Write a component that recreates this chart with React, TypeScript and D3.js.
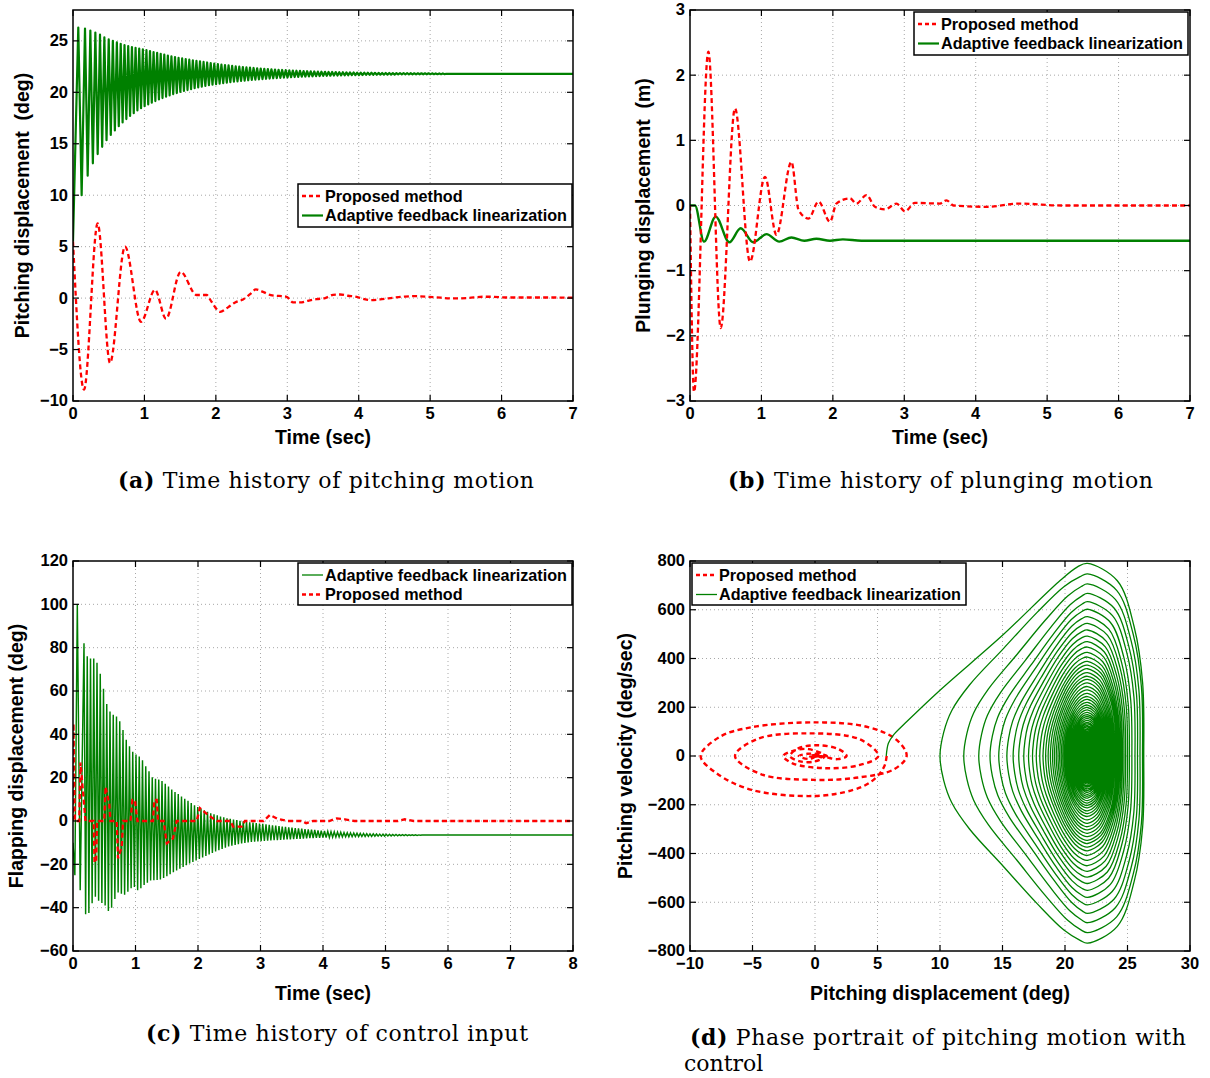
import React from 'react';
import * as d3 from 'd3';

// ---------------- DATA ----------------
// (a) pitching displacement (deg) vs time (sec)
const PITCH_RED: [number, number][] = [
  [0, 5.5], [0.154, -8.9], [0.345, 7.25], [0.518, -6.3], [0.728, 5.0], [0.952, -2.3], [1.148, 0.8],
  [1.302, -2.0], [1.507, 2.55], [1.73, 0.3], [1.87, 0.3], [1.94, -0.36], [2.06, -1.33], [2.17, -0.9],
  [2.27, -0.42], [2.38, -0.13], [2.48, 0.39], [2.56, 0.84], [2.66, 0.61], [2.77, 0.29], [2.99, 0.13],
  [3.08, -0.42], [3.18, -0.42], [3.29, -0.26], [3.41, -0.1], [3.53, 0], [3.64, 0.32], [3.74, 0.35],
  [3.85, 0.23], [3.97, 0.13], [4.06, -0.06], [4.16, -0.19], [4.3, -0.13], [4.41, -0.03], [4.62, 0.13],
  [4.76, 0.19], [5.04, 0.1], [5.32, -0.03], [5.51, 0], [5.74, 0.13], [5.88, 0.13], [6.06, 0.06],
  [6.68, 0.06], [7, 0.04],
];
const PITCH_START = 5.5;
const PITCH_STEADY = 21.8;
// times of the first peaks (sec), later peaks follow at PITCH_LATE_PERIOD
const PITCH_EARLY_PEAK_T = [0.074, 0.168, 0.243, 0.313, 0.378, 0.439, 0.5, 0.558, 0.614, 0.668, 0.721, 0.773, 0.825, 0.876, 0.927, 0.978];
const PITCH_LATE_PERIOD = 0.05;
const PITCH_PEAKS = [
  26.3, 26.2, 26.0, 25.8, 25.6, 25.35, 25.15, 25.0, 24.85, 24.72, 24.6, 24.5, 24.4, 24.32, 24.25, 24.18,
  24.11, 24.01, 23.92, 23.83, 23.74, 23.66, 23.58, 23.5, 23.43, 23.36, 23.29, 23.23, 23.17, 23.11, 23.05, 23.0, 22.95, 22.9, 22.85, 22.8,
  22.75, 22.7, 22.655, 22.61, 22.57, 22.53, 22.495, 22.46, 22.425, 22.395, 22.365, 22.335, 22.31, 22.285, 22.26, 22.235, 22.215, 22.19, 22.17, 22.15,
  22.13, 22.115, 22.1, 22.085, 22.07, 22.055, 22.04, 22.03, 22.015, 22.005, 21.995, 21.985, 21.975, 21.965, 21.955, 21.948, 21.94, 21.933, 21.926, 21.92,
  21.914, 21.908, 21.903, 21.898, 21.893, 21.888, 21.884, 21.88, 21.876, 21.872, 21.868, 21.865, 21.862, 21.859, 21.856, 21.853, 21.85, 21.848, 21.846, 21.844,
  21.842, 21.84, 21.838, 21.836,
];
const PITCH_TROUGHS = [
  10.0, 11.9, 13.1, 14.0, 14.7, 15.35, 15.85, 16.3, 16.7, 17.08, 17.4, 17.7, 17.98, 18.24, 18.45, 18.65,
  18.83, 19.0, 19.15, 19.3, 19.44, 19.57, 19.7, 19.82, 19.93, 20.03, 20.13, 20.22, 20.31, 20.4, 20.48, 20.55, 20.62, 20.69, 20.75, 20.8,
  20.85, 20.9, 20.945, 20.99, 21.03, 21.07, 21.105, 21.14, 21.175, 21.205, 21.235, 21.265, 21.29, 21.315, 21.34, 21.365, 21.385, 21.41, 21.43, 21.45,
  21.47, 21.485, 21.5, 21.515, 21.53, 21.545, 21.56, 21.57, 21.585, 21.595, 21.605, 21.615, 21.625, 21.635, 21.645, 21.652, 21.66, 21.667, 21.674, 21.68,
  21.686, 21.692, 21.697, 21.702, 21.707, 21.712, 21.716, 21.72, 21.724, 21.728, 21.732, 21.735, 21.738, 21.741, 21.744, 21.747, 21.75, 21.752, 21.754, 21.756,
  21.758, 21.76, 21.762, 21.764,
];

// (b) plunging displacement (m) vs time (sec)
const PLUNGE_RED: [number, number][] = [
  [0, 0], [0.056, -2.86], [0.257, 2.36], [0.43, -1.88], [0.63, 1.49], [0.84, -0.86], [1.05, 0.44],
  [1.21, -0.45], [1.42, 0.67], [1.52, -0.07], [1.66, -0.2], [1.8, 0.06], [1.96, -0.25], [2.05, 0.03],
  [2.24, 0.11], [2.33, 0.03], [2.47, 0.16], [2.59, -0.02], [2.73, -0.06], [2.89, 0.03], [3.01, -0.09],
  [3.15, 0.04], [3.5, 0.03], [3.59, 0.08], [3.69, 0], [4.15, -0.02], [4.62, 0.03], [5.2, 0], [7, 0],
];
const PLUNGE_GREEN: [number, number][] = [
  [0, 0], [0.07, 0], [0.196, -0.555], [0.36, -0.17], [0.55, -0.565], [0.71, -0.35], [0.886, -0.565],
  [1.07, -0.44], [1.25, -0.555], [1.42, -0.49], [1.6, -0.54], [1.77, -0.51], [1.96, -0.54], [2.14, -0.52],
  [2.4, -0.54], [7, -0.54],
];

// (c) flapping displacement (deg) vs time (sec)
const FLAP_RED: [number, number][] = [
  [0, 0], [0.008, 45], [0.03, 0], [0.1, 0], [0.12, 27], [0.2, 0], [0.33, 0], [0.345, -19], [0.37, -19],
  [0.385, 0], [0.5, 0], [0.52, 15.8], [0.58, 8], [0.6, 0], [0.7, 0], [0.72, -17.2], [0.78, -12], [0.8, 0],
  [0.92, 0], [0.95, 9.7], [0.99, 9.7], [1.03, 0], [1.28, 0], [1.3, 9.7], [1.34, 9.7], [1.36, 0], [1.45, 0],
  [1.5, -10.3], [1.6, -8], [1.66, 0], [1.98, 0], [2.03, 6], [2.15, 3], [2.3, 0], [2.52, 0], [2.56, -2.6],
  [2.7, -2.6], [2.75, 0], [3.05, 0], [3.15, 2.8], [3.27, 1], [3.43, 0], [3.65, 0], [3.73, -1], [3.84, 0],
  [4.1, 0], [4.22, 1.2], [4.35, 0.8], [4.5, 0], [5.2, 0], [5.31, 0.8], [5.45, 0], [8, 0],
];
const FLAP_PRE: [number, number][] = [[0, -10], [0.03, -25], [0.069, 100], [0.115, -32]];
const FLAP_T0 = 0.176;
const FLAP_PERIOD = 0.052;
const FLAP_STEADY = -6.5;
const FLAP_PEAKS = [
  82, 76, 75, 75, 73, 68, 61, 54, 50.5, 49,
  48.2, 46, 42, 37.5, 34.5, 32, 30.7, 29.8, 28, 25.3,
  23, 20.2, 19.5, 19.1, 18.4, 17.2, 15.9, 14.5, 13.4, 12.4,
  11.3, 10.3, 9.3, 8.3, 7.3, 6.5, 5.7, 5.0, 4.3, 3.6,
  3.1, 2.6, 2.1, 1.7, 1.3, 1.0, 0.7, 0.4, 0.1, -0.1,
  -0.35, -0.55, -0.75, -0.95, -1.15, -1.35, -1.55, -1.75, -1.95, -2.15,
  -2.35, -2.55, -2.75, -2.95, -3.1, -3.25, -3.4, -3.55, -3.7, -3.85,
  -4.0, -4.15, -4.3, -4.45, -4.6, -4.75, -4.9, -5.0, -5.1, -5.2,
  -5.3, -5.38, -5.46, -5.54, -5.62, -5.7, -5.76, -5.82, -5.88, -5.93,
  -5.98, -6.03, -6.07, -6.11, -6.15, -6.19, -6.23, -6.26, -6.29, -6.32,
  -6.35, -6.38, -6.4, -6.42,
];
const FLAP_TROUGHS = [
  -43, -42.5, -38, -35, -36.8, -37.8, -39, -41.5, -40, -36,
  -33, -33.6, -34, -32.6, -31, -30.5, -32, -31, -29.5, -28.5,
  -27.5, -27.3, -27.2, -27, -26.3, -25.5, -24.6, -23.7, -22.8, -22,
  -21.2, -20.4, -19.6, -18.9, -18.2, -17.5, -16.8, -16.1, -15.4, -14.7,
  -14.1, -13.5, -12.9, -12.3, -11.8, -11.4, -11.0, -10.7, -10.4, -10.1,
  -9.9, -9.7, -9.5, -9.4, -9.3, -9.2, -9.1, -9.0, -8.9, -8.8,
  -8.7, -8.6, -8.5, -8.45, -8.4, -8.3, -8.2, -8.1, -8.0, -7.95,
  -7.9, -7.8, -7.75, -7.7, -7.65, -7.6, -7.5, -7.45, -7.4, -7.35,
  -7.3, -7.27, -7.24, -7.21, -7.18, -7.15, -7.12, -7.09, -7.06, -7.03,
  -7.0, -6.97, -6.94, -6.91, -6.88, -6.85, -6.82, -6.79, -6.76, -6.73,
  -6.7, -6.67, -6.64, -6.61,
];

// (d) phase portrait: pitching displacement (deg) vs pitching velocity (deg/sec)
const PHASE_RED: [number, number][] = [
  [5.73, 0], [5.6, -35], [5.2, -71], [4.3, -112], [3.07, -139], [0, -164], [-5.07, -139], [-7.87, -71],
  [-9.15, 0], [-7.6, 79], [-5.07, 118], [0, 138], [4.13, 120], [6.53, 66], [7.33, 0],
  [6.3, -55], [3.5, -88], [0, -98], [-4.3, -75], [-6.4, 0], [-4.6, 70], [-0.6, 93], [3.6, 68], [5.07, 0],
  [3.5, -38], [0.8, -50], [-1.8, -30], [-2.53, 0], [-1.7, 22], [-0.5, 28], [0.8, 0], [0, -22], [-1.2, -22],
  [-2.0, 0], [-1.3, 32], [0.3, 44], [1.9, 28], [2.53, 0], [1.8, -13], [0.3, 0], [-0.5, -12], [-1.3, 0],
  [-0.6, 9], [0.3, 8], [0.95, 0], [0.5, -5], [0.2, 0], [-0.2, -4], [-0.5, 0], [-0.1, 3], [0.35, 0],
  [0.1, -2], [-0.2, 0], [0, 1.5], [0.15, 0], [0.02, -0.5],
];
const PHASE_GREEN_FIRST: [number, number][] = [
  [5.7, 0], [5.87, 52], [6.27, 86], [7.2, 134], [10, 270], [15, 495], [19.5, 715], [21, 776], [21.8, 790],
];
// peak velocity on each rising stroke and on each falling stroke (deg/sec)
const PHASE_V_UP = [
  790, 747, 706, 667, 633, 602, 572, 544, 517, 492, 469, 447, 425, 406, 388, 373, 358, 342, 327, 314,
  300, 285, 271, 257, 244, 232, 220, 209, 199, 189, 179, 170, 162, 154, 146, 138, 132, 125, 119, 112,
  107, 101, 96, 92, 87, 82, 78, 74, 71, 67, 64, 60, 57, 54, 51, 49, 46, 44, 42, 40,
  38, 36, 34, 32, 30, 28, 27, 25.6, 24.3, 23, 21.6, 20.5, 19.4, 18.4, 17.4, 16.6, 15.8, 15, 14.2, 13.5,
  12.8, 12.2, 11.6, 11, 10.5, 10, 9.5, 9, 8.6, 8.2, 7.8, 7.4, 7.0, 6.7, 6.4, 6.1, 5.8, 5.5, 5.3, 5.0,
];
const PHASE_V_DOWN = [
  768, 725, 684, 646, 611, 580, 551, 523, 497, 473, 450, 428, 408, 389, 374, 359, 346, 331, 317, 303,
  290, 276, 262, 248, 236, 225, 213, 203, 193, 183, 173, 165, 157, 149, 142, 135, 128, 122, 115, 109,
  104, 99, 94, 89, 84, 80, 76, 72, 69, 65, 62, 59, 56, 53, 50, 47, 45, 43, 41, 39,
  37, 35, 33, 31, 29, 27.7, 26.3, 25, 23.6, 22.3, 21, 20, 18.9, 18, 17, 16.2, 15.4, 14.6, 13.9, 13.2,
  12.6, 11.9, 11.3, 10.8, 10.3, 9.7, 9.2, 8.8, 8.4, 8, 7.6, 7.2, 6.8, 6.5, 6.2, 5.9, 5.7, 5.4, 5.1, 4.9,
];

// ticks
const A_XTICKS = [0, 1, 2, 3, 4, 5, 6, 7];
const A_YTICKS = [-10, -5, 0, 5, 10, 15, 20, 25];
const B_XTICKS = [0, 1, 2, 3, 4, 5, 6, 7];
const B_YTICKS = [-3, -2, -1, 0, 1, 2, 3];
const C_XTICKS = [0, 1, 2, 3, 4, 5, 6, 7, 8];
const C_YTICKS = [-60, -40, -20, 0, 20, 40, 60, 80, 100, 120];
const D_XTICKS = [-10, -5, 0, 5, 10, 15, 20, 25, 30];
const D_YTICKS = [-800, -600, -400, -200, 0, 200, 400, 600, 800];

const LBL_PROPOSED = 'Proposed method';
const LBL_AFL = 'Adaptive feedback linearization';

// ---------------- STYLE ----------------
const SANS = "'Liberation Sans', Arial, Helvetica, sans-serif";
const SERIF = "'DejaVu Serif', 'Liberation Serif', serif";
const RED = '#ff0000';
const GREEN = '#008000';

const fmt = (v: number) => (v < 0 ? '\u2212' + Math.abs(v) : String(v));

type Scale = d3.ScaleLinear<number, number>;

function Axes(props: {
  id: string; left: number; top: number; width: number; height: number;
  xDomain: [number, number]; yDomain: [number, number]; xTicks: number[]; yTicks: number[];
  xLabel: string; yLabel: string; yLabelX: number; xLabelY: number;
  render: (x: Scale, y: Scale) => React.ReactNode;
}) {
  const { id, left, top, width, height, xDomain, yDomain, xTicks, yTicks, xLabel, yLabel, yLabelX, xLabelY, render } = props;
  const x = d3.scaleLinear().domain(xDomain).range([left, left + width]);
  const y = d3.scaleLinear().domain(yDomain).range([top + height, top]);
  const bottom = top + height;
  const right = left + width;
  const tl = 6;
  return (
    <g>
      <clipPath id={'clip-' + id}>
        <rect x={left} y={top} width={width} height={height} />
      </clipPath>
      <rect x={left} y={top} width={width} height={height} fill="#fff" />
      <g stroke="#a8a8a8" strokeWidth={1} strokeDasharray="1,3">
        {xTicks.filter((t) => t !== xDomain[0] && t !== xDomain[1]).map((t) => (
          <line key={'gx' + t} x1={x(t)} x2={x(t)} y1={top} y2={bottom} />
        ))}
        {yTicks.filter((t) => t !== yDomain[0] && t !== yDomain[1]).map((t) => (
          <line key={'gy' + t} x1={left} x2={right} y1={y(t)} y2={y(t)} />
        ))}
      </g>
      <g clipPath={`url(#clip-${id})`}>{render(x, y)}</g>
      <g stroke="#000" strokeWidth={1.2}>
        {xTicks.map((t) => (
          <g key={'tx' + t}>
            <line x1={x(t)} x2={x(t)} y1={bottom} y2={bottom - tl} />
            <line x1={x(t)} x2={x(t)} y1={top} y2={top + tl} />
          </g>
        ))}
        {yTicks.map((t) => (
          <g key={'ty' + t}>
            <line x1={left} x2={left + tl} y1={y(t)} y2={y(t)} />
            <line x1={right} x2={right - tl} y1={y(t)} y2={y(t)} />
          </g>
        ))}
      </g>
      <rect x={left} y={top} width={width} height={height} fill="none" stroke="#000" strokeWidth={1.5} />
      <g fontFamily={SANS} fontWeight="bold" fontSize={16.5} fill="#000">
        {xTicks.map((t) => (
          <text key={'lx' + t} x={x(t)} y={bottom + 18} textAnchor="middle">{fmt(t)}</text>
        ))}
        {yTicks.map((t) => (
          <text key={'ly' + t} x={left - 5} y={y(t)} dy="0.33em" textAnchor="end">{fmt(t)}</text>
        ))}
      </g>
      <g fontFamily={SANS} fontWeight="bold" fontSize={19.5} fill="#000">
        <text x={(left + right) / 2} y={xLabelY} textAnchor="middle">{xLabel}</text>
        <text transform={`translate(${yLabelX},${(top + bottom) / 2}) rotate(-90)`} textAnchor="middle" dy="0.36em"
          style={{ whiteSpace: 'pre' }}>{yLabel}</text>
      </g>
    </g>
  );
}

type LegendEntry = { label: string; color: string; width: number; dash?: string };
function Legend({ x, y, w, h, entries }: { x: number; y: number; w: number; h: number; entries: LegendEntry[] }) {
  return (
    <g>
      <rect x={x} y={y} width={w} height={h} fill="#fff" stroke="#000" strokeWidth={1.5} />
      {entries.map((e, i) => {
        const cy = y + 12 + i * 19.5;
        return (
          <g key={i}>
            <line x1={x + 4} x2={x + 25} y1={cy} y2={cy} stroke={e.color} strokeWidth={e.width}
              strokeDasharray={e.dash} />
            <text x={x + 27} y={cy} dy="0.36em" fontFamily={SANS} fontWeight="bold" fontSize={16.2}>{e.label}</text>
          </g>
        );
      })}
    </g>
  );
}

function mkLine(x: Scale, y: Scale, curve: d3.CurveFactory = d3.curveLinear) {
  return d3.line<[number, number]>().x((d) => x(d[0])).y((d) => y(d[1])).curve(curve);
}

function pitchPeakTime(i: number): number {
  const n = PITCH_EARLY_PEAK_T.length;
  return i < n ? PITCH_EARLY_PEAK_T[i] : PITCH_EARLY_PEAK_T[n - 1] + (i - n + 1) * PITCH_LATE_PERIOD;
}

// waveform through the per-cycle extremes
function pitchGreenPoints(): [number, number][] {
  const pts: [number, number][] = [[0, PITCH_START]];
  PITCH_PEAKS.forEach((p, i) => {
    const tp = pitchPeakTime(i);
    const tn = pitchPeakTime(i + 1);
    pts.push([tp, p]);
    pts.push([(tp + tn) / 2, PITCH_TROUGHS[i]]);
  });
  pts.push([pitchPeakTime(PITCH_PEAKS.length), PITCH_STEADY]);
  pts.push([7, PITCH_STEADY]);
  return pts;
}

function flapGreenPoints(): [number, number][] {
  const pts: [number, number][] = [...FLAP_PRE];
  FLAP_PEAKS.forEach((p, i) => {
    const tp = FLAP_T0 + i * FLAP_PERIOD;
    pts.push([tp, p]);
    pts.push([tp + FLAP_PERIOD / 2, FLAP_TROUGHS[i]]);
  });
  pts.push([FLAP_T0 + FLAP_PEAKS.length * FLAP_PERIOD, FLAP_STEADY]);
  pts.push([8, FLAP_STEADY]);
  return pts;
}

// loop shape templates: [fraction of horizontal distance from centre, fraction of peak velocity]
// large loops: pointed on the left side; small loops: elliptical
const LOOP_LEFT_SHARP: [number, number][] = [[1, 0], [0.975, 0.13], [0.92, 0.25], [0.8, 0.39], [0.57, 0.59], [0.34, 0.79], [0.16, 0.93], [0.05, 0.985], [0, 1]];
const LOOP_LEFT_ROUND: [number, number][] = [[1, 0], [0.99, 0.13], [0.968, 0.25], [0.921, 0.39], [0.807, 0.59], [0.613, 0.79], [0.368, 0.93], [0.173, 0.985], [0, 1]];
const LOOP_RIGHT_SHARP: [number, number][] = [[0, 1], [0.53, 0.91], [0.83, 0.67], [0.98, 0.38], [1, 0]];
const LOOP_RIGHT_ROUND: [number, number][] = [[0, 1], [0.41, 0.91], [0.74, 0.67], [0.925, 0.38], [1, 0]];

function blend(a: [number, number][], b: [number, number][], r: number): [number, number][] {
  return a.map((p, k) => [p[0] * (1 - r) + b[k][0] * r, p[1] * (1 - r) + b[k][1] * r]);
}

function phaseGreenPoints(): [number, number][] {
  const c = PITCH_STEADY;
  const pts: [number, number][] = [...PHASE_GREEN_FIRST];
  const n = Math.min(PITCH_PEAKS.length, PHASE_V_UP.length, PHASE_V_DOWN.length);
  const roundness = (v: number) => Math.max(0, Math.min(1, (650 - v) / 450));
  for (let i = 0; i < n; i++) {
    const vu = PHASE_V_UP[i];
    const vd = PHASE_V_DOWN[i];
    const ru = roundness(vu);
    const rd = roundness(vd);
    const leftU = blend(LOOP_LEFT_SHARP, LOOP_LEFT_ROUND, ru);
    const rightU = blend(LOOP_RIGHT_SHARP, LOOP_RIGHT_ROUND, ru);
    const leftD = blend(LOOP_LEFT_SHARP, LOOP_LEFT_ROUND, rd);
    const rightD = blend(LOOP_RIGHT_SHARP, LOOP_RIGHT_ROUND, rd);
    if (i > 0) {
      const dPrev = c - PITCH_TROUGHS[i - 1];
      leftU.slice(1).forEach(([fx, fy]) => pts.push([c - fx * dPrev, fy * vu]));
    }
    const e = PITCH_PEAKS[i] - c;
    rightU.slice(1).forEach(([fx, fy]) => pts.push([c + fx * e, fy * vu]));
    rightD.slice(0, -1).reverse().forEach(([fx, fy]) => pts.push([c + fx * e, -fy * vd]));
    const dl = c - PITCH_TROUGHS[i];
    leftD.slice(0, -1).reverse().forEach(([fx, fy]) => pts.push([c - fx * dl, -fy * vd]));
  }
  return pts;
}

export default function App() {
  const redDash = '5,3.2';
  return (
    <svg width={1210} height={1078} viewBox="0 0 1210 1078"
      style={{ position: 'absolute', left: 0, top: 0, background: '#fff' }}>
      <rect x={0} y={0} width={1210} height={1078} fill="#fff" />

      {/* (a) */}
      <Axes id="a" left={73} top={10} width={500} height={391} xDomain={[0, 7]} yDomain={[-10, 28]}
        xTicks={A_XTICKS} yTicks={A_YTICKS} xLabel="Time (sec)" yLabel="Pitching displacement  (deg)"
        yLabelX={22} xLabelY={444}
        render={(x, y) => (
          <g fill="none">
            <path d={mkLine(x, y)(pitchGreenPoints()) || ''} stroke={GREEN} strokeWidth={2.2} strokeLinejoin="round" />
            <path d={mkLine(x, y, d3.curveMonotoneX)(PITCH_RED) || ''} stroke={RED} strokeWidth={2.3} strokeDasharray={redDash} />
          </g>
        )} />
      <Legend x={298} y={184} w={274} h={43} entries={[
        { label: LBL_PROPOSED, color: RED, width: 2.3, dash: '4,3' },
        { label: LBL_AFL, color: GREEN, width: 2.2 },
      ]} />

      {/* (b) */}
      <Axes id="b" left={690} top={10} width={500} height={391} xDomain={[0, 7]} yDomain={[-3, 3]}
        xTicks={B_XTICKS} yTicks={B_YTICKS} xLabel="Time (sec)" yLabel="Plunging displacement  (m)"
        yLabelX={643} xLabelY={444}
        render={(x, y) => (
          <g fill="none">
            <path d={mkLine(x, y, d3.curveMonotoneX)(PLUNGE_GREEN) || ''} stroke={GREEN} strokeWidth={2.4} />
            <path d={mkLine(x, y, d3.curveMonotoneX)(PLUNGE_RED) || ''} stroke={RED} strokeWidth={2.3} strokeDasharray={redDash} />
          </g>
        )} />
      <Legend x={914} y={12} w={274} h={43} entries={[
        { label: LBL_PROPOSED, color: RED, width: 2.3, dash: '4,3' },
        { label: LBL_AFL, color: GREEN, width: 2.2 },
      ]} />

      {/* (c) */}
      <Axes id="c" left={73} top={561} width={500} height={390} xDomain={[0, 8]} yDomain={[-60, 120]}
        xTicks={C_XTICKS} yTicks={C_YTICKS} xLabel="Time (sec)" yLabel="Flapping displacement (deg)"
        yLabelX={16} xLabelY={1000}
        render={(x, y) => (
          <g fill="none">
            <path d={mkLine(x, y)(flapGreenPoints()) || ''} stroke={GREEN} strokeWidth={1.45} />
            <path d={mkLine(x, y)(FLAP_RED) || ''} stroke={RED} strokeWidth={2.3} strokeDasharray={redDash} />
          </g>
        )} />
      <Legend x={298} y={563} w={274} h={42} entries={[
        { label: LBL_AFL, color: GREEN, width: 1.3 },
        { label: LBL_PROPOSED, color: RED, width: 2.3, dash: '4,3' },
      ]} />

      {/* (d) */}
      <Axes id="d" left={690} top={561} width={500} height={390} xDomain={[-10, 30]} yDomain={[-800, 800]}
        xTicks={D_XTICKS} yTicks={D_YTICKS} xLabel="Pitching displacement (deg)" yLabel="Pitching velocity (deg/sec)"
        yLabelX={625} xLabelY={1000}
        render={(x, y) => (
          <g fill="none">
            <path d={mkLine(x, y, d3.curveCatmullRom.alpha(0.5))(PHASE_RED) || ''} stroke={RED} strokeWidth={2.4} strokeDasharray="5,3.5" />
            <path d={mkLine(x, y, d3.curveCatmullRom.alpha(0.5))(phaseGreenPoints()) || ''} stroke={GREEN} strokeWidth={1.3} />
          </g>
        )} />
      <Legend x={692} y={563} w={274} h={42} entries={[
        { label: LBL_PROPOSED, color: RED, width: 2.3, dash: '4,3' },
        { label: LBL_AFL, color: GREEN, width: 1.3 },
      ]} />

      {/* captions */}
      <g fontFamily={SERIF} fontSize={22} fill="#000">
        <text x={118} y={488} textLength={416} lengthAdjust="spacing"><tspan fontWeight="bold">(a)</tspan> Time history of pitching motion</text>
        <text x={728} y={488} textLength={425} lengthAdjust="spacing"><tspan fontWeight="bold">(b)</tspan> Time history of plunging motion</text>
        <text x={146} y={1041} textLength={382} lengthAdjust="spacing"><tspan fontWeight="bold">(c)</tspan> Time history of control input</text>
        <text x={690} y={1045} textLength={496} lengthAdjust="spacing"><tspan fontWeight="bold">(d)</tspan> Phase portrait of pitching motion with</text>
        <text x={684} y={1071}>control</text>
      </g>
    </svg>
  );
}
